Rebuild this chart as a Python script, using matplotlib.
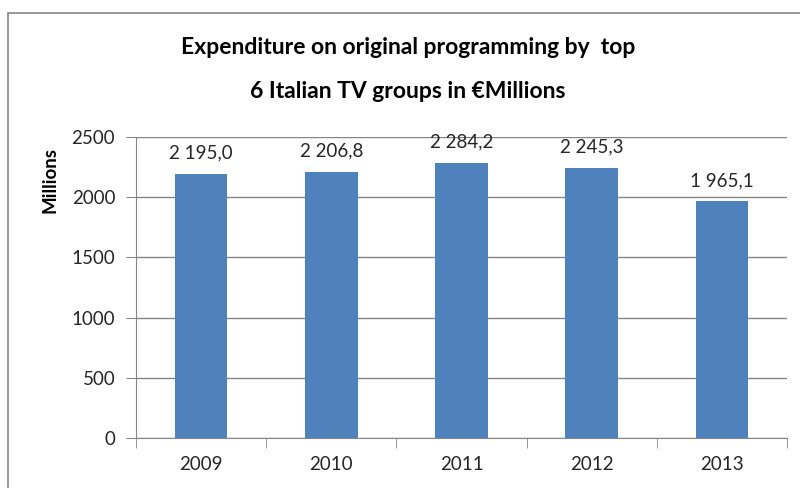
import numpy as np
import matplotlib.pyplot as plt
from matplotlib.patches import Rectangle

years = ['2009', '2010', '2011', '2012', '2013']
spend = [2195.0, 2206.8, 2284.2, 2245.3, 1965.1]
value_labels = ['2 195,0', '2 206,8', '2 284,2', '2 245,3', '1 965,1']
yticks = [0, 500, 1000, 1500, 2000, 2500]

plt.rcParams['font.family'] = ['Lato', 'DejaVu Sans']

fig = plt.figure(figsize=(8, 4.88), dpi=100)
W, H = 800, 488
ax = fig.add_axes([136/W, 1-438/H, (787-136)/W, (438-137)/H])

x = np.arange(len(years))
ax.bar(x, spend, width=0.405, color='#4F81BD', zorder=3)
for xi, v, s in zip(x, spend, value_labels):
    ax.annotate(s, (xi, v), xytext=(0, 9), textcoords='offset points',
                ha='center', va='bottom', fontsize=13.5, color='#262626')

ax.set_xlim(-0.5, 4.5)
ax.set_ylim(0, 2500)
ax.set_yticks(yticks)
ax.set_yticklabels([str(t) for t in yticks], fontsize=13.5, color='#262626')
ax.set_xticks(x)
ax.set_xticklabels(years, fontsize=13.5, color='#262626')
ax.set_xticks(np.arange(-0.5, 5, 1), minor=True)
ax.tick_params(axis='x', which='major', length=0, pad=13)
ax.tick_params(axis='x', which='minor', length=7, color='#868686', direction='out')
ax.tick_params(axis='y', length=7, color='#868686', pad=8)
ax.grid(axis='y', color='#868686', lw=1, zorder=0)
for side in ['top', 'right']:
    ax.spines[side].set_visible(False)
for side in ['left', 'bottom']:
    ax.spines[side].set_color('#868686')

# axis title sits up by the top of the value axis
fig.text(50/W, 1-180/H, 'Millions', rotation=90, ha='center', va='center',
         fontsize=13.5, fontweight='bold')

fig.text(408/W, 1-47/H, 'Expenditure on original programming by  top',
         ha='center', va='center', fontsize=16.5, fontweight='bold')
fig.text(408/W, 1-92/H, '6 Italian TV groups in \u20acMillions',
         ha='center', va='center', fontsize=16.5, fontweight='bold')

# outer chart frame, runs off the right and bottom edges
fig.patches.append(Rectangle((8/W, -0.1), 1.0, 1-13/H+0.1, transform=fig.transFigure,
                             fill=False, edgecolor='#868686', lw=1.2))

fig.savefig('out.png', dpi=100)
